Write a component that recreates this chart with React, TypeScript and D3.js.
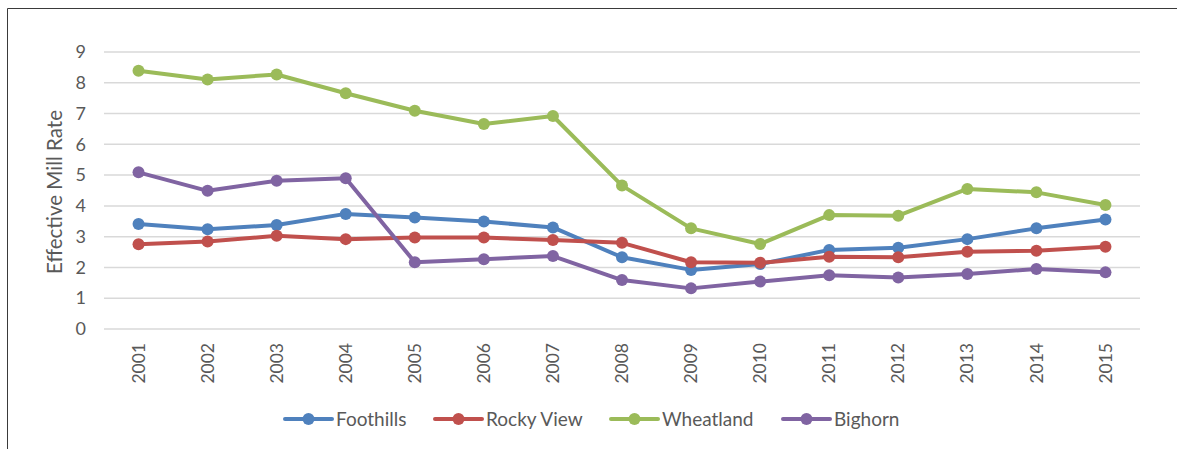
import React, { useRef, useEffect } from "react";
import * as d3 from "d3";

const years = [
  "2001", "2002", "2003", "2004", "2005", "2006", "2007", "2008",
  "2009", "2010", "2011", "2012", "2013", "2014", "2015",
];
const foothills = [3.41, 3.24, 3.38, 3.74, 3.62, 3.49, 3.3, 2.33, 1.92, 2.11, 2.57, 2.64, 2.92, 3.27, 3.56];
const rockyView = [2.75, 2.84, 3.03, 2.92, 2.97, 2.97, 2.89, 2.8, 2.17, 2.15, 2.35, 2.33, 2.51, 2.54, 2.67];
const wheatland = [8.39, 8.11, 8.27, 7.66, 7.09, 6.66, 6.92, 4.66, 3.27, 2.76, 3.7, 3.68, 4.55, 4.44, 4.03];
const bighorn = [5.09, 4.49, 4.82, 4.9, 2.17, 2.27, 2.37, 1.59, 1.32, 1.54, 1.75, 1.67, 1.79, 1.95, 1.84];
const yTicks = [0, 1, 2, 3, 4, 5, 6, 7, 8, 9];

const series = [
  { name: "Foothills", values: foothills, color: "#4F81BD" },
  { name: "Rocky View", values: rockyView, color: "#C0504D" },
  { name: "Wheatland", values: wheatland, color: "#9BBB59" },
  { name: "Bighorn", values: bighorn, color: "#8064A2" },
];

const W = 1177;
const H = 449;
const FONT = "Lato, 'Open Sans', sans-serif";
const TEXT = "#595959";

export default function App() {
  const svgRef = useRef<SVGSVGElement | null>(null);

  useEffect(() => {
    if (!svgRef.current) return;
    const svg = d3.select(svgRef.current);
    svg.selectAll("*").remove();

    const x = d3.scaleBand<string>().domain(years).range([104, 1140]);
    const y = d3.scaleLinear().domain([0, 9]).range([329, 52]);
    const cx = (i: number) => (x(years[i]) as number) + x.bandwidth() / 2;

    // chart frame (top and left edges only visible)
    svg.append("line").attr("x1", 7.5).attr("x2", W).attr("y1", 8.5).attr("y2", 8.5)
      .attr("stroke", "#3a3a3a").attr("stroke-width", 1);
    svg.append("line").attr("x1", 7.5).attr("x2", 7.5).attr("y1", 8.5).attr("y2", H)
      .attr("stroke", "#3a3a3a").attr("stroke-width", 1);

    // gridlines
    svg.append("g").selectAll("line").data(yTicks).join("line")
      .attr("x1", 104).attr("x2", 1140)
      .attr("y1", (d) => y(d)).attr("y2", (d) => y(d))
      .attr("stroke", "#d9d9d9").attr("stroke-width", 1.5);

    // y axis labels
    const yAxis = svg.append("g").attr("transform", "translate(86,0)")
      .call(d3.axisLeft(y).tickValues(yTicks).tickSize(0).tickPadding(0).tickFormat(d3.format("d")));
    yAxis.select(".domain").remove();
    yAxis.selectAll("text").attr("font-family", FONT).attr("font-size", 18).attr("fill", TEXT);

    // x axis labels
    const xAxis = svg.append("g").attr("transform", "translate(0,329)")
      .call(d3.axisBottom(x).tickSize(0).tickPadding(0));
    xAxis.select(".domain").remove();
    xAxis.selectAll("text")
      .attr("font-family", FONT).attr("font-size", 17.5).attr("fill", TEXT)
      .attr("text-anchor", "end").attr("dy", "0.35em")
      .attr("transform", "translate(0,14) rotate(-90)")
      .attr("x", 0).attr("y", 0);

    // axis title
    svg.append("text")
      .attr("transform", "translate(55,192) rotate(-90)")
      .attr("text-anchor", "middle").attr("dy", "0.35em")
      .attr("font-family", FONT).attr("font-size", 20.5).attr("fill", TEXT)
      .text("Effective Mill Rate");

    const line = d3.line<number>().x((_, i) => cx(i)).y((d) => y(d));

    series.forEach((s) => {
      const g = svg.append("g");
      g.append("path").datum(s.values)
        .attr("fill", "none").attr("stroke", s.color).attr("stroke-width", 4)
        .attr("stroke-linejoin", "round").attr("d", line);
      g.selectAll("circle").data(s.values).join("circle")
        .attr("cx", (_, i) => cx(i)).attr("cy", (d) => y(d)).attr("r", 6)
        .attr("fill", s.color);
    });

    // legend
    const legendX = [285, 435, 611, 783];
    const ly = 419;
    series.forEach((s, i) => {
      const g = svg.append("g").attr("transform", `translate(${legendX[i]},${ly})`);
      g.append("line").attr("x1", 0).attr("x2", 47).attr("y1", 0).attr("y2", 0)
        .attr("stroke", s.color).attr("stroke-width", 4).attr("stroke-linecap", "round");
      g.append("circle").attr("cx", 23.5).attr("cy", 0).attr("r", 6).attr("fill", s.color);
      g.append("text").attr("x", 51).attr("y", 0).attr("dy", "0.35em")
        .attr("font-family", FONT).attr("font-size", 19).attr("fill", TEXT)
        .text(s.name);
    });
  }, []);

  return (
    <svg
      ref={svgRef}
      width={W}
      height={H}
      style={{ position: "absolute", left: 0, top: 0, background: "#fff" }}
    />
  );
}
